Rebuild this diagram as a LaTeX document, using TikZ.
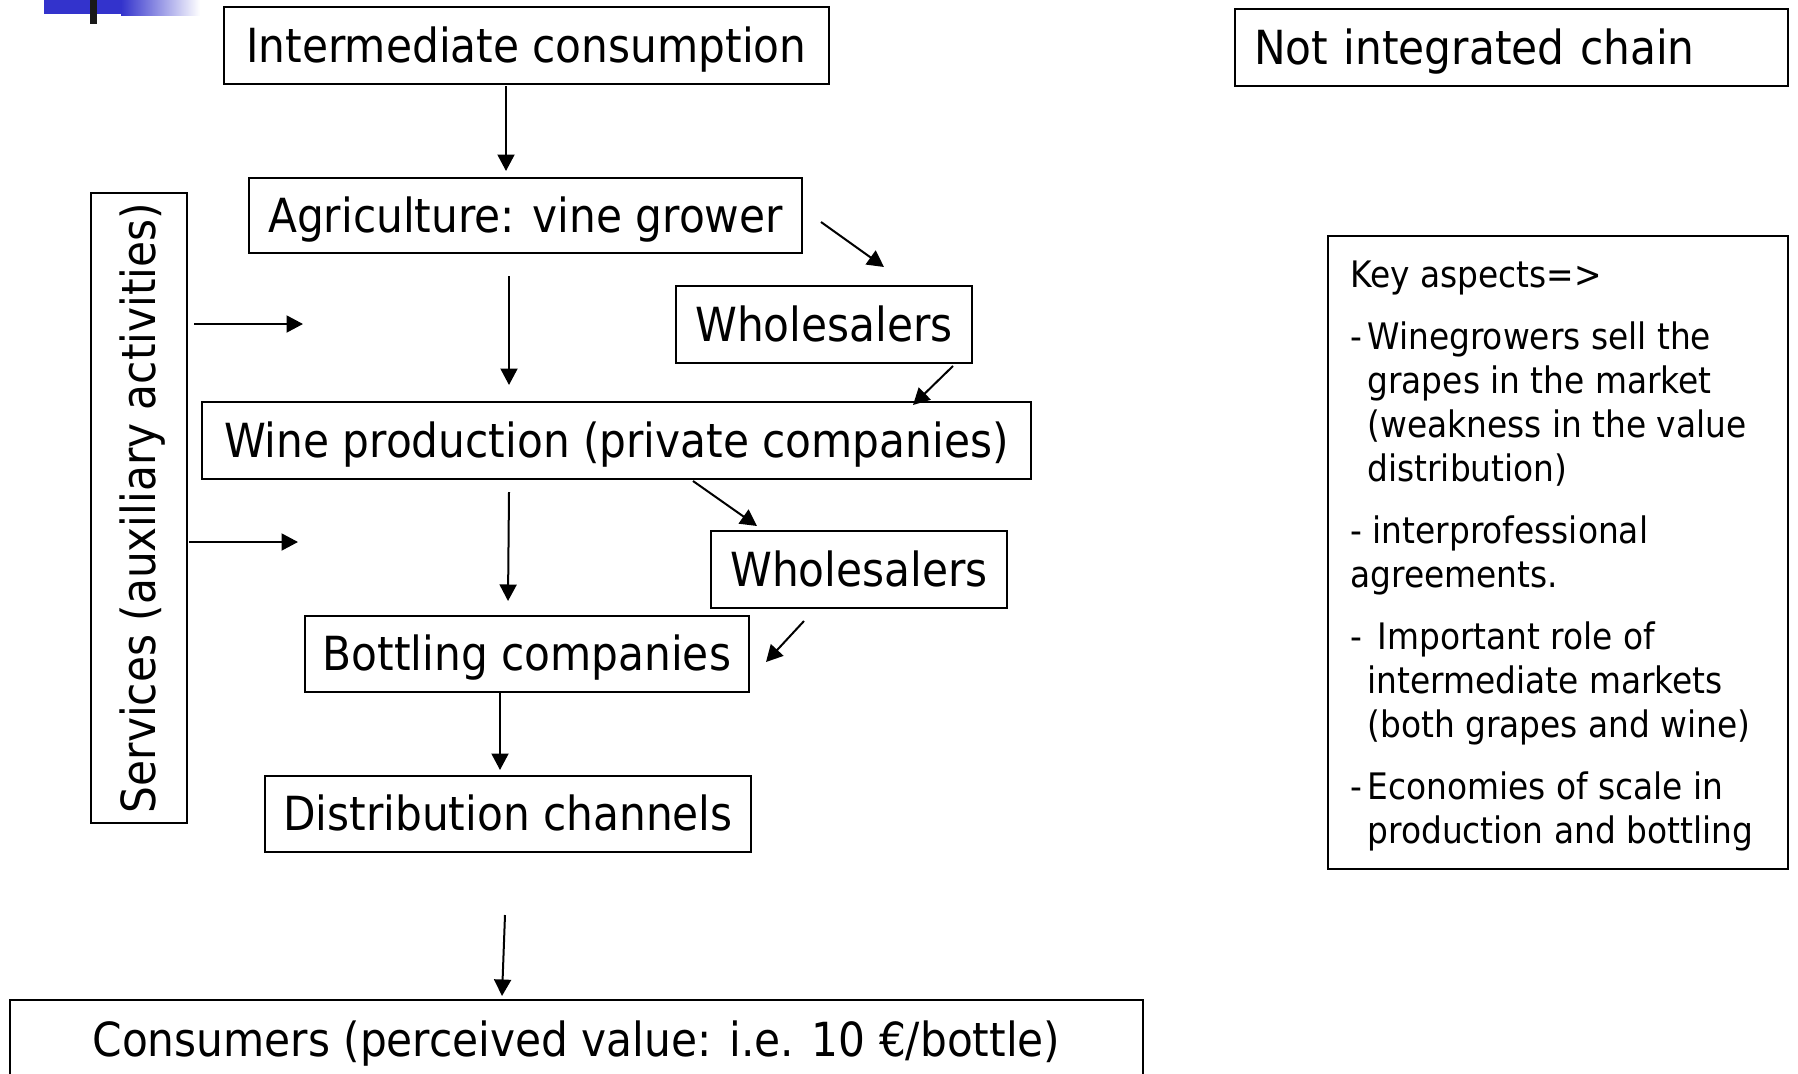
\documentclass[tikz,border=0pt]{standalone}
\usepackage{fontspec}
\setmainfont{DejaVu Sans Condensed}
\usetikzlibrary{arrows.meta}
\definecolor{deco}{RGB}{51,51,204}
\begin{document}
\begin{tikzpicture}[x=0.4pt,y=-0.4pt,
  box/.style={draw, line width=0.8pt, inner sep=0pt, text height=16pt, text depth=2.6pt, font=\fontsize{18.8}{22}\selectfont},
  arr/.style={-{Triangle[width=6.8pt,length=6.6pt]}, line width=0.8pt}]
\useasboundingbox (0,0) rectangle (1798,1073);
% decoration
\fill[deco] (44,0) rectangle (121,14);
\shade[left color=deco, right color=white] (121,0) rectangle (200,15);
\fill[black!90] (90,0) rectangle (97,24);
% boxes
\node[box, minimum width=242pt, minimum height=30.8pt] (ic) at (526.5,45.5) {Intermediate consumption};
\node[box, minimum width=221.2pt, minimum height=30.8pt, text width=206pt, align=left] (nic) at (1511.5,47.5) {Not integrated chain};
\node[box, minimum width=221.2pt, minimum height=30pt] (agr) at (525.5,215.5) {Agriculture: vine grower};
\node[box, minimum width=118.4pt, minimum height=30.8pt] (wh1) at (824,324.5) {Wholesalers};
\node[box, minimum width=331.6pt, minimum height=30.8pt] (wp) at (616.5,440.5) {Wine production (private companies)};
\node[box, minimum width=118.4pt, minimum height=30.8pt] (wh2) at (859,569.5) {Wholesalers};
\node[box, minimum width=177.6pt, minimum height=30.4pt] (bot) at (527,654) {Bottling companies};
\node[box, minimum width=194.4pt, minimum height=30.4pt] (dist) at (508,814) {Distribution channels};
\node[box, minimum width=453.2pt, minimum height=32pt] (cons) at (576.5,1040) {Consumers (perceived value: i.e. 10 €/bottle)};
\node[box, rotate=90, minimum width=252pt, minimum height=38.4pt] (svc) at (139,508) {Services (auxiliary activities)};
\node[draw, line width=0.8pt, minimum width=184pt, minimum height=253.2pt] (key) at (1558,552.5) {};
\node[anchor=north west, inner sep=0pt, align=left, font=\fontsize{14.6}{17.6}\selectfont] (keytxt) at (1350,260) {%
Key aspects=>\\[7.4pt]
\makebox[6.8pt][l]{-}Winegrowers sell the\\
\hspace*{6.8pt}grapes in the market\\
\hspace*{6.8pt}(weakness in the value\\
\hspace*{6.8pt}distribution)\\[7.2pt]
- interprofessional\\
agreements.\\[7.2pt]
\makebox[6.8pt][l]{-}\hspace*{4pt}Important role of\\
\hspace*{6.8pt}intermediate markets\\
\hspace*{6.8pt}(both grapes and wine)\\[7.2pt]
\makebox[6.8pt][l]{-}Economies of scale in\\
\hspace*{6.8pt}production and bottling};
% free ends
\coordinate (s1) at (303,324);
\coordinate (s2) at (298,542);
% connectors
\draw[arr] ([shift={(-20.5,1)}]ic.south) -- ([shift={(-19.5,-6)}]agr.north);
\draw[arr] ([shift={(-16.5,22)}]agr.south) -- ([shift={(-107.5,-16)}]wp.north);
\draw[arr] ([shift={(18,6.5)}]agr.east) -- ([shift={(60,-18)}]wh1.north);
\draw[arr] ([shift={(129,2)}]wh1.south) -- ([shift={(296.5,4)}]wp.north);
\draw[arr] ([shift={(76.5,1)}]wp.south) -- ([shift={(-102,-4)}]wh2.north);
\draw[arr] ([shift={(-55,12)}]wh2.south) -- ([shift={(16,8)}]bot.east);
\draw[arr] ([shift={(-107.5,12)}]wp.south) -- ([shift={(-19,-14)}]bot.north);
\draw[arr] ([shift={(-27,0)}]bot.south) -- ([shift={(-8,-5)}]dist.north);
\draw[arr] ([shift={(-3,62)}]dist.south) -- ([shift={(-74.5,-3)}]cons.north);
\draw[arr] ([shift={(6,-184)}]svc.south) -- (s1);
\draw[arr] ([shift={(1,34)}]svc.south) -- (s2);
\end{tikzpicture}
\end{document}
